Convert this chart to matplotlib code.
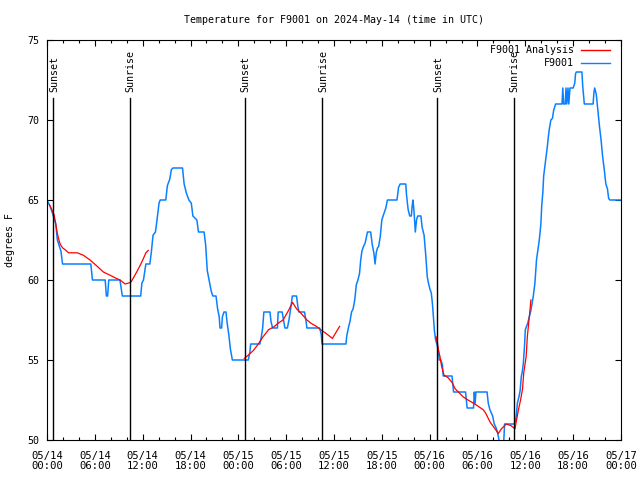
import matplotlib
matplotlib.use("Agg")
import matplotlib.pyplot as plt
from matplotlib.ticker import FixedLocator, MultipleLocator

plt.rcParams['font.family'] = ['DejaVu Sans Mono']
plt.rcParams['font.size'] = 7.2

# hours since 2024-05-14 00:00 UTC
obs_hours = [0, 0.4, 0.8, 1.1, 1.3, 1.55, 1.75, 1.95, 5.5, 5.7, 7.3, 7.45, 7.6, 7.75, 9.15, 9.45,
             11.75, 11.9, 12.1, 12.4, 12.9, 13.1, 13.3, 13.6, 13.8, 14.05, 14.2, 14.9, 15.1, 15.4,
             15.6, 15.8, 17.0, 17.2, 17.5, 17.8, 18.1, 18.3, 18.8, 19.0, 19.7, 19.9, 20.1, 20.4,
             20.6, 20.8, 21.2, 21.4, 21.6, 21.7, 21.9, 22.0, 22.2, 22.45, 22.6, 22.8, 23.0, 23.25,
             25.25, 25.45, 25.55, 26.7, 26.9, 27.05, 27.2, 27.97, 28.1, 28.3, 28.9, 29.0, 29.5,
             29.7, 29.85, 30.15, 30.35, 30.5, 30.65, 30.77, 31.3, 31.45, 31.6, 32.3, 32.5, 32.6,
             34.2, 34.4, 34.5, 37.5, 37.6, 37.8, 38.0, 38.2, 38.4, 38.6, 38.8, 39.0, 39.2, 39.35,
             39.5, 39.7, 39.9, 40.2, 40.6, 40.8, 41.0, 41.15, 41.3, 41.45, 41.6, 41.8, 42.0, 42.2,
             42.5, 42.7, 43.9, 44.1, 44.3, 45.0, 45.1, 45.3, 45.5, 45.7, 45.8, 45.9, 46.0, 46.1,
             46.2, 46.35, 46.5, 46.9, 47.05, 47.3, 47.5, 47.7, 47.85, 48.05, 48.2, 48.35, 48.5,
             48.6, 48.75, 48.95, 49.1, 49.2, 49.4, 49.6, 49.7, 50.8, 51.0, 52.5, 52.7, 53.5, 53.6,
             53.7, 53.8, 54.2, 55.2, 55.35, 55.55, 55.9, 56.1, 56.3, 56.5, 56.7, 56.8, 57.2, 57.3,
             57.4, 58.6, 58.8, 58.9, 59.0, 59.2, 59.35, 59.5, 59.6, 59.75, 59.9, 60.0, 60.3, 60.5,
             60.7, 61.0, 61.2, 61.4, 61.75, 61.95, 62.05, 62.2, 62.3, 62.45, 62.6, 62.75, 62.9,
             63.0, 63.2, 63.4, 63.55, 63.8, 64.6, 64.7, 64.8, 65.0, 65.1, 65.2, 65.35, 65.45, 65.6,
             66.0, 66.2, 66.3, 66.4, 67.1, 67.2, 67.4, 68.5, 68.6, 68.7, 68.9, 69.1, 69.3, 69.5,
             69.7, 69.9, 70.1, 70.3, 70.45, 70.6, 72.0]
obs_temp = [65, 64.6, 64.0, 63.5, 62.5, 62.1, 61.8, 61, 61, 60, 60, 59, 59, 60, 60, 59,
            59, 59.8, 60, 61, 61, 61.8, 62.8, 63, 63.75, 64.8, 65, 65, 65.9, 66.3,
            66.9, 67, 67, 66, 65.4, 65, 64.8, 64, 63.75, 63, 63, 62.2, 60.6, 59.8,
            59.3, 59, 59, 58.2, 57.7, 57, 57, 57.7, 58, 58, 57.3, 56.6, 55.7, 55,
            55, 55.5, 56, 56, 56.5, 57, 58, 58, 57.4, 57, 57, 58, 58,
            57.4, 57, 57, 57.5, 58, 58.5, 59, 59, 58.4, 58, 58, 57.4, 57,
            57, 56.6, 56, 56, 56.5, 57, 57.4, 58, 58.2, 58.75, 59.7, 60, 60.4, 61.25,
            61.8, 62.1, 62.3, 63, 63, 62.2, 61.7, 61, 61.7, 62, 62.1, 62.7, 63.75, 64.06,
            64.5, 65, 65, 65.8, 66, 66, 65.3, 64.4, 64, 64, 64.6, 65, 64.5, 63.8,
            63, 63.75, 64, 64, 63.3, 62.8, 61.6, 60.2, 59.8, 59.4, 59.2, 58.5, 57.5,
            56.8, 56.25, 55.9, 55.6, 55, 55, 54.7, 54, 54, 53, 53, 52, 52, 53,
            52.3, 53, 53, 53, 52.3, 51.9, 51.5, 51, 50.8, 50.5, 50, 49.4, 49.4, 50,
            51, 51, 51.25, 51.7, 52.3, 52.7, 53.1, 54, 54.2, 54.8, 55.9, 56.9, 57.3, 57.7,
            58.1, 59, 59.8, 61.25, 62.5, 63.5, 64.6, 65.5, 66.5, 67.1, 67.7, 68.3, 69,
            69.4, 70, 70.1, 70.6, 71, 71, 72, 71, 71, 72, 71, 72, 71, 72,
            72, 72.3, 72.9, 73, 73, 72.1, 71, 71, 71.7, 72, 71.6, 70.6, 69.6, 68.75,
            67.7, 66.9, 66, 65.7, 65.1, 65, 65]

# analysis segments
ana1_hours = [0.3, 0.6, 0.9, 1.1, 1.3, 1.55, 1.7, 1.97, 2.26, 2.7, 3.8, 4.55, 5.4, 6.2, 7.07,
              7.9, 8.7, 9.16, 9.8, 10.5, 10.8, 11.25, 11.67, 12.1, 12.4, 12.7]
ana1_temp = [64.7, 64.4, 64.06, 63.5, 62.9, 62.4, 62.2, 62.0, 61.9, 61.7, 61.7, 61.55, 61.25,
             60.9, 60.5, 60.3, 60.1, 60.0, 59.75, 59.85, 60.1, 60.5, 60.9, 61.35, 61.7, 61.85]
ana2_hours = [24.75, 25.25, 25.9, 26.5, 27.1, 27.8, 28.4, 29.0, 29.6, 29.85, 30.3, 30.8, 31.3,
              31.9, 32.6, 33.1, 33.8, 34.3, 34.9, 35.8, 36.1, 36.7]
ana2_temp = [55.1, 55.3, 55.6, 56.0, 56.45, 56.9, 57.05, 57.3, 57.5, 57.7, 58.1, 58.6, 58.2,
             57.9, 57.5, 57.3, 57.1, 56.9, 56.7, 56.35, 56.6, 57.1]
ana3_hours = [48.8, 49.0, 49.1, 49.3, 49.5, 49.8, 50.3, 50.8, 51.2, 51.6, 52.2, 52.8, 53.5,
              54.1, 54.7, 55.0, 55.6, 56.2, 56.6, 57.0, 57.6, 58.2, 58.7, 58.9, 59.1, 59.4,
              59.65, 59.8, 60.1, 60.25, 60.5, 60.7]
ana3_temp = [56.45, 56.0, 55.6, 55.2, 54.6, 54.05, 53.9, 53.6, 53.2, 53.0, 52.7, 52.5, 52.3,
             52.1, 51.9, 51.7, 51.1, 50.7, 50.4, 50.7, 51.0, 50.9, 50.7, 51.25, 51.8, 52.5,
             53.2, 54.2, 55.2, 56.45, 57.7, 58.75]

sun_hours = [0.79, 10.41, 24.84, 34.52, 48.95, 58.52]
sun_labels = ['Sunset', 'Sunrise', 'Sunset', 'Sunrise', 'Sunset', 'Sunrise']

tick_hours = list(range(0, 73, 6))
tick_labels = ['05/14\n00:00', '05/14\n06:00', '05/14\n12:00', '05/14\n18:00',
               '05/15\n00:00', '05/15\n06:00', '05/15\n12:00', '05/15\n18:00',
               '05/16\n00:00', '05/16\n06:00', '05/16\n12:00', '05/16\n18:00',
               '05/17\n00:00']

fig = plt.figure(figsize=(6.4, 4.8), dpi=100)
ax = fig.add_axes([47/640, 40/480, 574/640, 400/480])

blue = '#0a80ff'
ax.plot(obs_hours, obs_temp, color=blue, lw=1.1, zorder=2)
for h, t in [(ana1_hours, ana1_temp), (ana2_hours, ana2_temp), (ana3_hours, ana3_temp)]:
    ax.plot(h, t, color='#ff0000', lw=0.9, zorder=3)

for h, lab in zip(sun_hours, sun_labels):
    ax.plot([h, h], [50, 71.375], color='black', lw=1.0, zorder=4)
    ax.text(h + 0.1, 71.75, lab, rotation=90, ha='center', va='bottom')

ax.set_xlim(0, 72)
ax.set_ylim(50, 75)
ax.xaxis.set_major_locator(FixedLocator(tick_hours))
ax.set_xticklabels(tick_labels, fontsize=7.6)
for lbl in ax.get_xticklabels():
    lbl.set_linespacing(1.0)
ax.xaxis.set_minor_locator(MultipleLocator(2))
ax.yaxis.set_major_locator(MultipleLocator(5))
ax.tick_params(which='both', direction='in', top=True, right=True, width=0.8)
ax.tick_params(which='major', length=4.5)
ax.tick_params(which='minor', length=2.5)
ax.tick_params(axis='x', which='major', pad=8)
ax.tick_params(axis='y', which='major', pad=5.5)
ax.set_ylabel('degrees F')
ax.yaxis.set_label_coords(-31.5/574, 0.5)
fig.text(334/640, 1 - 20/480, 'Temperature for F9001 on 2024-May-14 (time in UTC)',
         ha='center', va='center')

# legend drawn gnuplot style: text right aligned, sample to the right
for ypos, lab, col in [(0.975, 'F9001 Analysis', '#ff0000'), (0.943, 'F9001', blue)]:
    ax.text(0.9186, ypos, lab, transform=ax.transAxes, ha='right', va='center')
    ax.plot([0.9303, 0.9808], [ypos, ypos], transform=ax.transAxes, color=col, lw=1.0)

fig.savefig('out.png', dpi=100)
